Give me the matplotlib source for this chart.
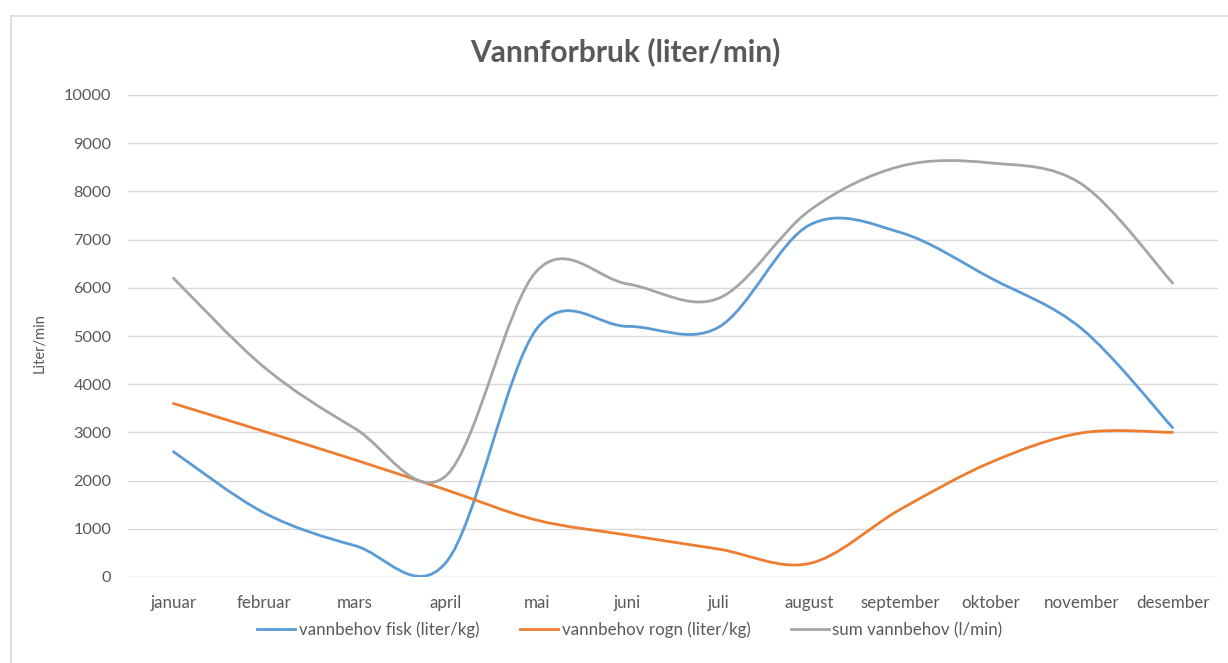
import matplotlib
matplotlib.use("Agg")
import matplotlib.pyplot as plt
from matplotlib.path import Path
from matplotlib.patches import PathPatch
from matplotlib.lines import Line2D
import numpy as np

months = ["januar", "februar", "mars", "april", "mai", "juni", "juli",
          "august", "september", "oktober", "november", "desember"]
fisk = [2600, 1330, 650, 300, 5150, 5200, 5180, 7300, 7150, 6200, 5150, 3100]
rogn = [3600, 3020, 2430, 1810, 1180, 870, 580, 280, 1400, 2380, 2990, 3000]
total = [6200, 4350, 3080, 2100, 6350, 6080, 5780, 7600, 8520, 8590, 8150, 6100]

series_names = ["vannbehov fisk (liter/kg)", "vannbehov rogn (liter/kg)", "sum vannbehov (l/min)"]
colors = ["#5b9bd5", "#ed7d31", "#a5a5a5"]
yticks = [0, 1000, 2000, 3000, 4000, 5000, 6000, 7000, 8000, 9000, 10000]
title = "Vannforbruk (liter/min)"
ylabel = "Liter/min"

FONT = "Lato"
TXT = "#595959"

W, H = 1228, 663
fig = plt.figure(figsize=(W / 100, H / 100), dpi=100)
fig.patch.set_facecolor("white")

# chart border (top and left edges visible)
fig.add_artist(Line2D([11 / W, 1.0], [1 - 15.5 / H, 1 - 15.5 / H], transform=fig.transFigure,
                      color="#d9d9d9", linewidth=1.2))
fig.add_artist(Line2D([11 / W, 11 / W], [0, 1 - 15.5 / H], transform=fig.transFigure,
                      color="#d9d9d9", linewidth=1.2))

ax = fig.add_axes([128 / W, 1 - 577 / H, (1218 - 128) / W, (577 - 95) / H])
ax.set_xlim(-0.5, len(months) - 0.5)
ax.set_ylim(0, 10000)
for s in ax.spines.values():
    s.set_visible(False)
ax.set_yticks(yticks)
ax.set_yticklabels([str(v) for v in yticks], fontsize=11.8, color=TXT, family=FONT)
ax.set_xticks(range(len(months)))
ax.set_xticklabels(months, fontsize=12.2, color=TXT, family=FONT)
ax.tick_params(axis="both", length=0)
ax.tick_params(axis="y", pad=12)
ax.tick_params(axis="x", pad=13)
ax.grid(axis="y", color="#d9d9d9", linewidth=1.0)
ax.set_axisbelow(True)


def smooth_path(xs, ys):
    pts = np.column_stack([xs, ys]).astype(float)
    n = len(pts)
    verts = [pts[0]]
    codes = [Path.MOVETO]
    for i in range(n - 1):
        p0 = pts[i - 1] if i > 0 else pts[i]
        p1 = pts[i]
        p2 = pts[i + 1]
        p3 = pts[i + 2] if i + 2 < n else pts[i + 1]
        c1 = p1 + (p2 - p0) / 6.0
        c2 = p2 - (p3 - p1) / 6.0
        verts += [c1, c2, p2]
        codes += [Path.CURVE4] * 3
    return Path(verts, codes)


x = np.arange(len(months))
for vals, col in zip([fisk, rogn, total], colors):
    patch = PathPatch(smooth_path(x, vals), facecolor="none", edgecolor=col,
                      linewidth=2.0, capstyle="round", joinstyle="round", zorder=3)
    ax.add_patch(patch)

ax.set_ylabel(ylabel, fontsize=10.5, color=TXT, family=FONT)
ax.yaxis.set_label_coords(-(128 - 47) / (1218 - 128), (577 - 343) / (577 - 95))

fig.text(625 / W, 1 - 52 / H, title, ha="center", va="center", fontsize=21.5,
         fontweight="bold", color=TXT, family=FONT)

handles = [Line2D([0], [0], color=c, linewidth=2.0) for c in colors]
leg = fig.legend(handles, series_names, loc="center", ncol=3,
                 bbox_to_anchor=(630 / W, 1 - 630 / H), frameon=False,
                 prop={"family": FONT, "size": 12.2}, handlelength=2.25,
                 handletextpad=0.2, columnspacing=2.4)
for t in leg.get_texts():
    t.set_color(TXT)

fig.savefig("out.png", dpi=100, facecolor="white")
